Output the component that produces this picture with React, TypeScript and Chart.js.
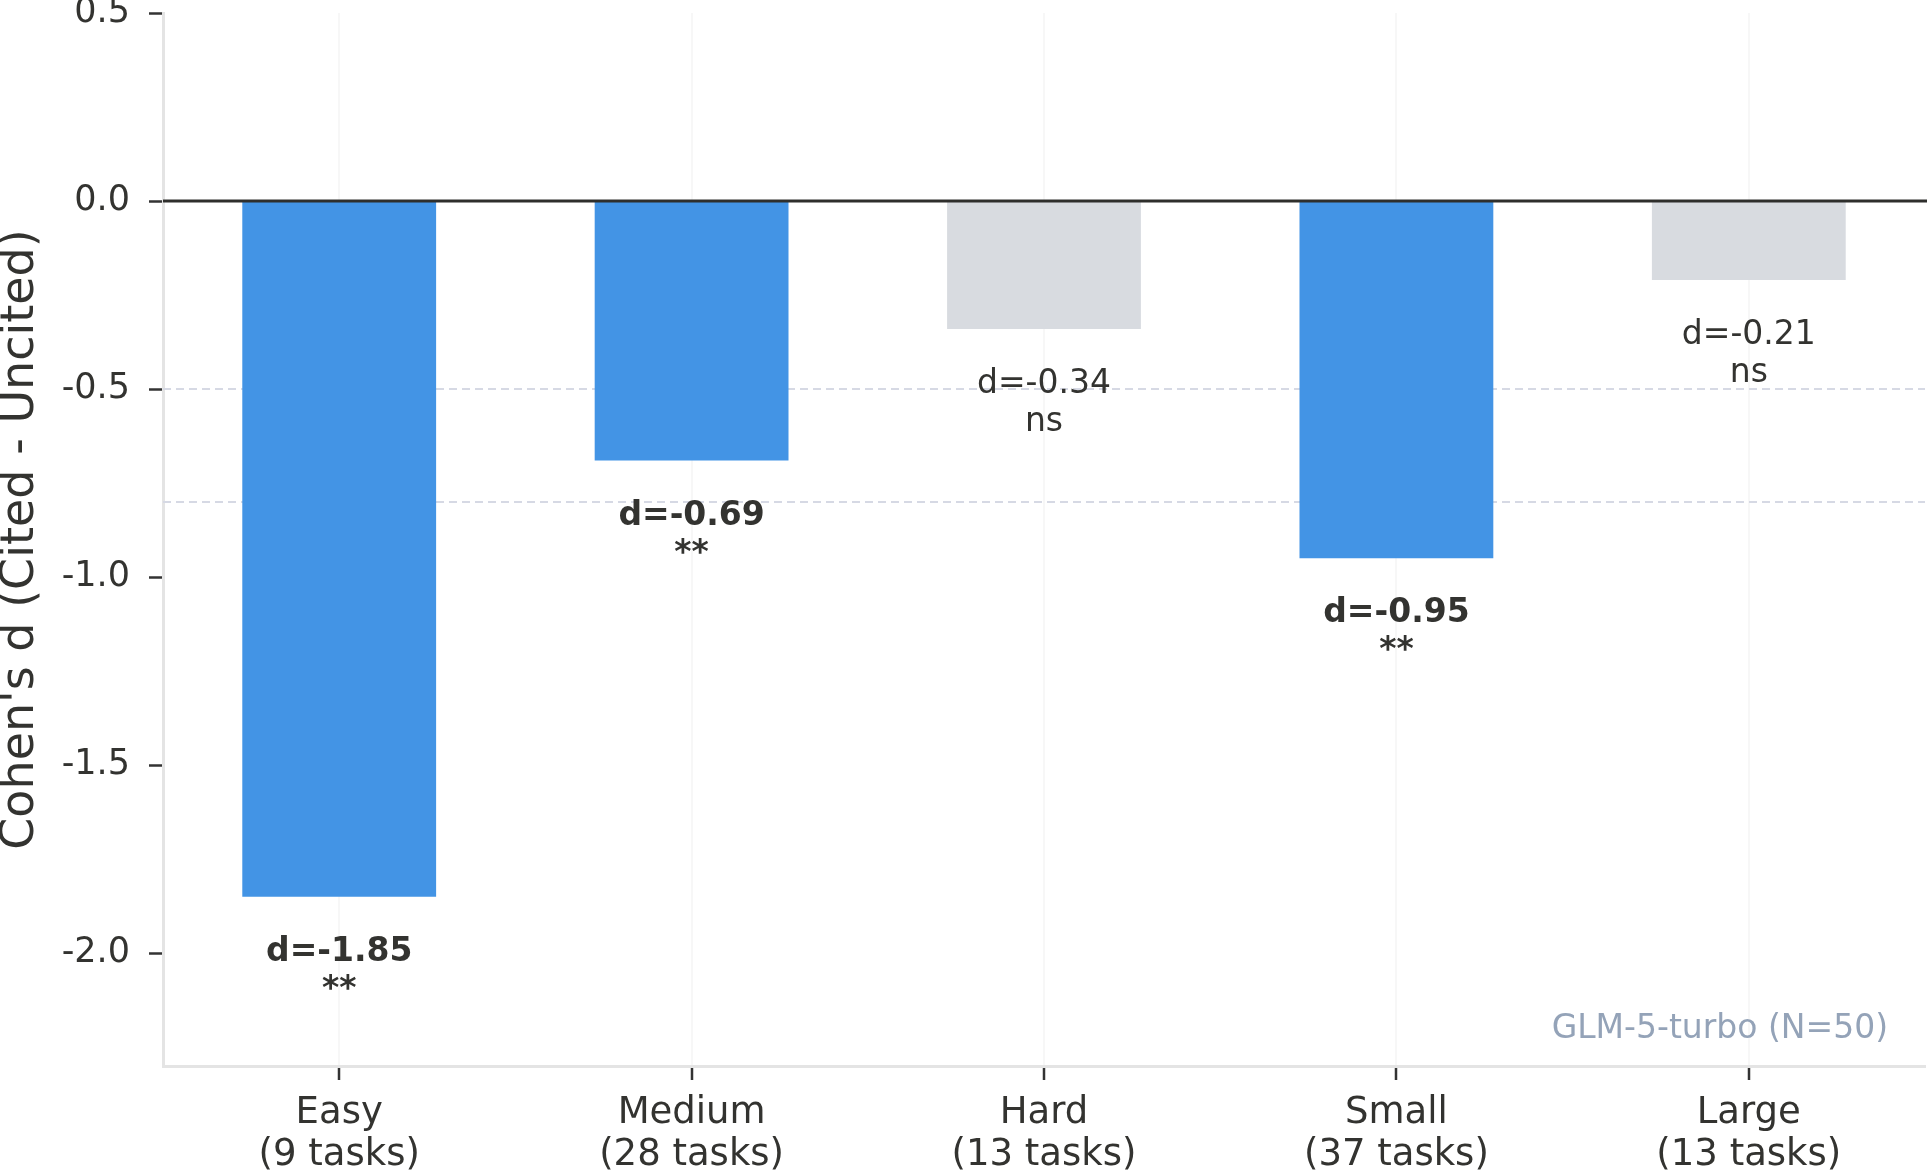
import React, { useEffect, useRef } from 'react';
import { Chart, registerables } from 'chart.js';

Chart.register(...registerables);

// ---- data ----
const CATEGORIES = ['Easy', 'Medium', 'Hard', 'Small', 'Large'];
const TASK_COUNTS = [9, 28, 13, 37, 13];
const COHENS_D = [-1.85, -0.69, -0.34, -0.95, -0.21];
const SIGNIFICANCE = ['**', '**', 'ns', '**', 'ns'];
const Y_TICKS = [0.5, 0.0, -0.5, -1.0, -1.5, -2.0];
const Y_MIN = -2.3;
const Y_MAX = 0.5;
const THRESHOLDS = [-0.5, -0.8];
const ZERO_LINE = 0;
const MODEL_NOTE = 'GLM-5-turbo (N=50)';
const Y_TITLE = "Cohen's d (Cited - Uncited)";

// ---- styles ----
const FONT = '"DejaVu Sans", "Liberation Sans", sans-serif';
const TEXT = '#333330';
const BLUE = '#4394E5';
const GRAY = '#D8DBE0';

const annotate = {
  id: 'annotate',
  beforeDatasetsDraw(chart: any) {
    const { ctx, chartArea: a, scales } = chart;
    const y = scales.y;
    ctx.save();
    ctx.strokeStyle = '#d6d9e4';
    ctx.lineWidth = 2;
    ctx.setLineDash([8, 5]);
    THRESHOLDS.forEach((v) => {
      const py = y.getPixelForValue(v);
      ctx.beginPath();
      ctx.moveTo(a.left, py);
      ctx.lineTo(a.right, py);
      ctx.stroke();
    });
    ctx.restore();
  },
  afterDatasetsDraw(chart: any) {
    const { ctx, chartArea: a, scales } = chart;
    const y = scales.y;
    ctx.save();
    // zero line
    const pz = y.getPixelForValue(ZERO_LINE);
    ctx.strokeStyle = '#2f2f2c';
    ctx.lineWidth = 3;
    ctx.beginPath();
    ctx.moveTo(a.left, pz);
    ctx.lineTo(chart.width, pz);
    ctx.stroke();

    // bar labels
    const meta = chart.getDatasetMeta(0);
    ctx.fillStyle = TEXT;
    ctx.textAlign = 'center';
    ctx.textBaseline = 'alphabetic';
    meta.data.forEach((bar: any, i: number) => {
      const sig = SIGNIFICANCE[i] !== 'ns';
      const weight = sig ? 'bold ' : '';
      ctx.font = `${weight}33px ${FONT}`;
      const yEnd = bar.y;
      ctx.fillText(`d=${COHENS_D[i].toFixed(2)}`, bar.x, yEnd + 64);
      ctx.fillText(SIGNIFICANCE[i], bar.x, yEnd + 64 + 38);
    });

    // model note
    ctx.font = `33px ${FONT}`;
    ctx.fillStyle = '#94a3b8';
    ctx.textAlign = 'right';
    ctx.fillText(MODEL_NOTE, a.right - 37, a.bottom - 28);
    ctx.restore();
  },
};

export default function App() {
  const ref = useRef<HTMLCanvasElement>(null);

  useEffect(() => {
    Chart.defaults.font.family = FONT;
    Chart.defaults.color = TEXT;
    const labels = CATEGORIES.map((c, i) => [c, `(${TASK_COUNTS[i]} tasks)`]);
    const chart = new Chart(ref.current as HTMLCanvasElement, {
      type: 'bar',
      data: {
        labels,
        datasets: [
          {
            data: COHENS_D,
            backgroundColor: SIGNIFICANCE.map((s) => (s === 'ns' ? GRAY : BLUE)),
            borderWidth: 0,
            categoryPercentage: 1,
            barPercentage: 0.55,
          },
        ],
      },
      options: {
        responsive: false,
        animation: false,
        devicePixelRatio: 1,
        layout: { padding: { top: 13, right: 2, left: 0, bottom: 0 } },
        plugins: { legend: { display: false }, tooltip: { enabled: false } },
        scales: {
          x: {
            offset: true,
            grid: {
              offset: false,
              color: '#f7f7f7',
              lineWidth: 2,
              drawTicks: true,
              tickLength: 14,
              tickColor: '#333',
              tickWidth: 2.5,
            },
            border: { color: '#e4e4e4', width: 3 },
            ticks: {
              font: { size: 37, lineHeight: 1.12 },
              color: TEXT,
              padding: 13,
              maxRotation: 0,
              autoSkip: false,
            },
            afterFit(s: any) {
              s.height = 105;
              s.paddingLeft = 0;
              s.paddingRight = 0;
            },
          },
          y: {
            min: Y_MIN,
            max: Y_MAX,
            afterBuildTicks(s: any) {
              s.ticks = Y_TICKS.map((v) => ({ value: v }));
            },
            grid: {
              drawOnChartArea: false,
              drawTicks: true,
              tickLength: 14,
              tickColor: '#333',
              tickWidth: 2.5,
            },
            border: { color: '#e4e4e4', width: 3 },
            ticks: {
              font: { size: 35 },
              color: TEXT,
              padding: 19,
              callback: (v: any) => Number(v).toFixed(1),
            },
            title: {
              display: true,
              text: Y_TITLE,
              font: { size: 46, lineHeight: 0.9 },
              color: TEXT,
              padding: 0,
            },
            afterFit(s: any) {
              s.width = 163;
              s.paddingTop = 0;
              s.paddingBottom = 0;
            },
          },
        },
      },
      plugins: [annotate],
    } as any);
    return () => chart.destroy();
  }, []);

  return (
    <div style={{ position: 'fixed', left: 0, top: 0, width: 1927, height: 1171, background: '#fff' }}>
      <canvas ref={ref} width={1927} height={1171} style={{ display: 'block', width: 1927, height: 1171 }} />
    </div>
  );
}
